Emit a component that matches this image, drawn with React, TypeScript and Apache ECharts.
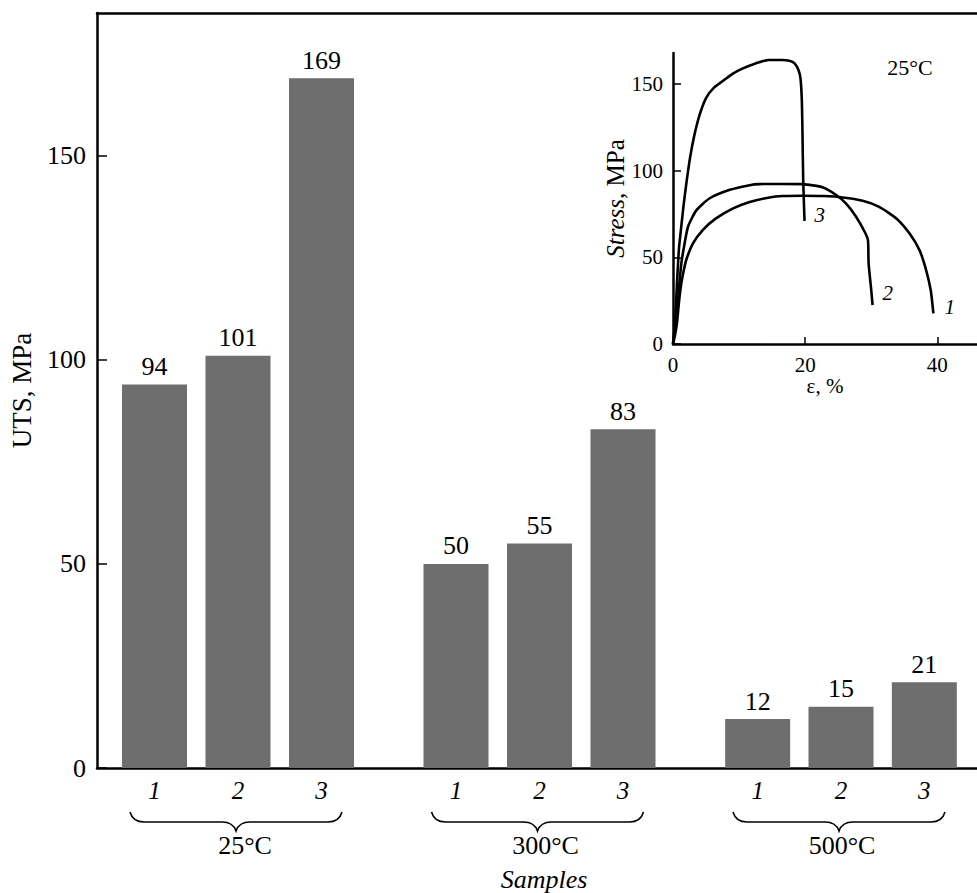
import React, { useEffect, useRef } from 'react';
import * as echarts from 'echarts';

// ---- data ----
const groups = ['25°C', '300°C', '500°C'];
const samples = ['1', '2', '3'];
const uts25 = [94, 101, 169];
const uts300 = [50, 55, 83];
const uts500 = [12, 15, 21];
const utsTicks = [0, 50, 100, 150];

// inset: stress-strain curves at 25°C  [strain %, stress MPa]
const curve1 = [
  [0, 0], [0.3, 5], [0.6, 12], [0.9, 24], [1.26, 35], [1.6, 42], [2.0, 48.5], [3.0, 58], [4.5, 65.8],
  [6.5, 72.5], [9.1, 78.3], [11.6, 82], [14.6, 84.6], [16.6, 85.4], [19.6, 85.6], [22.7, 85.4],
  [25.7, 84.6], [28.7, 82.7], [31.2, 79.2], [33.8, 72.5], [35.8, 63.8], [37.3, 54.2],
  [38.3, 42.7], [39.0, 31], [39.4, 17.7],
];
const curve2 = [
  [0, 0], [0.3, 8], [0.6, 17.7], [0.9, 32], [1.26, 46.5], [1.66, 56], [2.27, 67.7], [3.5, 77], [5.5, 84],
  [8.6, 89], [11.6, 91.7], [13.1, 92.3], [16.5, 92.4], [19.6, 92.3], [22.7, 90.4], [24.7, 86],
  [26.2, 81], [27.7, 73.5], [29.0, 64.8], [29.5, 60], [29.6, 46.5], [30.0, 31], [30.2, 22.5],
];
const curve3 = [
  [0, 0], [0.3, 12], [0.6, 35], [0.9, 55], [1.2, 66], [1.6, 80], [2.1, 95], [2.6, 108], [3.2, 120],
  [4.0, 132], [5.0, 142], [6.2, 148], [7.6, 152], [9.0, 156], [10.5, 159], [12.5, 162],
  [14.5, 164], [16.5, 164], [17.6, 163.5], [18.4, 162], [19.0, 158], [19.3, 153], [19.5, 140],
  [19.6, 120], [19.7, 95], [19.9, 71],
];
const strainTicks = [0, 20, 40];
const stressTicks = [0, 50, 100, 150];

const FONT = "'Liberation Serif', 'Times New Roman', serif";

const braceD =
  'M0,0 C2,7 6,10 14,10 L92,10 C100,10 104,13 106,19 C108,13 112,10 120,10 L198,10 C206,10 210,7 212,0';

let registered = false;

export default function App() {
  const ref = useRef<HTMLDivElement>(null);

  useEffect(() => {
    if (!ref.current) return;
    if (!registered) {
      echarts.graphic.registerShape('brace', echarts.graphic.extendPath(braceD, {}));
      registered = true;
    }
    const chart = echarts.init(ref.current, null, { renderer: 'svg' });

    const TOP = 13;
    const BOTTOM = 125; // 893 - 768
    const groupGrids = [
      { left: 112.75, width: 250.5 },
      { left: 414.25, width: 250.5 },
      { left: 716, width: 250 },
    ];
    const namePads = [[0, 0, 0, 14], [0, 0, 0, 12], [0, 0, 0, 2]];
    const values = [uts25, uts300, uts500];
    const axisLineStyle = { color: '#000', width: 2.5 };

    const grids: any[] = [
      { left: 96, right: 0, top: TOP, bottom: BOTTOM },
      ...groupGrids.map((g) => ({ left: g.left, width: g.width, top: TOP, bottom: BOTTOM })),
      { left: 673, right: 0, top: 53, bottom: 549 },
    ];

    const xAxes: any[] = [
      {
        gridIndex: 0, type: 'value', min: 0, max: 1, position: 'bottom',
        axisLine: { show: true, lineStyle: axisLineStyle }, axisTick: { show: false },
        axisLabel: { show: false }, splitLine: { show: false },
      },
      {
        gridIndex: 0, type: 'value', min: 0, max: 1, position: 'top',
        axisLine: { show: true, lineStyle: axisLineStyle }, axisTick: { show: false },
        axisLabel: { show: false }, splitLine: { show: false },
      },
      ...groups.map((g, i) => ({
        gridIndex: i + 1, type: 'category', data: samples,
        axisLine: { show: false }, axisTick: { show: false },
        axisLabel: { fontFamily: FONT, fontStyle: 'italic', fontSize: 25, color: '#000', margin: 10 },
        name: g, nameLocation: 'middle', nameGap: 64,
        nameTextStyle: { fontFamily: FONT, fontSize: 26, color: '#000', padding: namePads[i] },
      })),
      {
        gridIndex: 4, type: 'value', min: 0, max: 46,
        axisLine: { show: true, onZero: false, lineStyle: axisLineStyle },
        axisTick: { show: true, inside: true, length: 7, customValues: strainTicks, lineStyle: { color: '#000', width: 1.5 } },
        axisLabel: { customValues: strainTicks, fontFamily: FONT, fontSize: 21, color: '#000', margin: 10 },
        splitLine: { show: false },
        name: 'ε, %', nameLocation: 'middle', nameGap: 26,
        nameTextStyle: { fontFamily: FONT, fontSize: 21, color: '#000' },
      },
    ];

    const yAxes: any[] = [
      {
        gridIndex: 0, type: 'value', min: 0, max: 185,
        axisLine: { show: true, lineStyle: axisLineStyle },
        axisTick: { show: true, inside: true, length: 10, customValues: utsTicks, lineStyle: { color: '#000', width: 1.5 } },
        axisLabel: { customValues: utsTicks, fontFamily: FONT, fontSize: 26, color: '#000', margin: 11 },
        splitLine: { show: false },
        name: 'UTS, MPa', nameLocation: 'middle', nameGap: 62, nameRotate: 90,
        nameTextStyle: { fontFamily: FONT, fontSize: 27, color: '#000' },
      },
      ...groups.map((_, i) => ({ gridIndex: i + 1, type: 'value', min: 0, max: 185, show: false })),
      {
        gridIndex: 4, type: 'value', min: 0, max: 168,
        axisLine: { show: true, onZero: false, lineStyle: axisLineStyle },
        axisTick: { show: true, inside: true, length: 8, customValues: stressTicks, lineStyle: { color: '#000', width: 1.5 } },
        axisLabel: { customValues: stressTicks, fontFamily: FONT, fontSize: 21, color: '#000', margin: 10 },
        splitLine: { show: false },
        name: '{i|Stress}, MPa', nameLocation: 'middle', nameGap: 44, nameRotate: 90,
        nameTextStyle: {
          fontFamily: FONT, fontSize: 25, color: '#000',
          rich: { i: { fontFamily: FONT, fontSize: 25, fontStyle: 'italic', color: '#000' } },
        },
      },
    ];

    const barSeries = groups.map((g, i) => ({
      type: 'bar', name: g, xAxisIndex: i + 2, yAxisIndex: i + 1,
      data: values[i], barWidth: 65,
      itemStyle: { color: '#6e6e6e' },
      label: { show: true, position: 'top', distance: 5, fontFamily: FONT, fontSize: 26, color: '#000' },
    }));

    const curves = [
      { name: '1', data: curve1, offset: [3, -6] },
      { name: '2', data: curve2, offset: [2, -12] },
      { name: '3', data: curve3, offset: [2, -6] },
    ];
    const lineSeries = curves.map((c) => ({
      type: 'line', name: c.name, xAxisIndex: 5, yAxisIndex: 4,
      data: c.data, showSymbol: false, smooth: 0.2,
      lineStyle: { color: '#000', width: 2.6 },
      endLabel: {
        show: true, formatter: '{a}', offset: c.offset,
        fontFamily: FONT, fontStyle: 'italic', fontSize: 21, color: '#000',
      },
    }));

    const centers = groupGrids.map((g) => g.left + g.width / 2);

    chart.setOption({
      animation: false,
      backgroundColor: '#fff',
      textStyle: { fontFamily: FONT },
      grid: grids,
      xAxis: xAxes,
      yAxis: yAxes,
      series: [...barSeries, ...lineSeries],
      graphic: [
        ...centers.map((cx) => ({
          type: 'brace', x: cx - 108, y: 812, silent: true,
          style: { fill: 'none', stroke: '#000', lineWidth: 1.6 },
        })),
        {
          type: 'text', x: 544, y: 879, silent: true,
          style: {
            text: 'Samples', fontFamily: FONT, fontStyle: 'italic', fontSize: 26, fill: '#000',
            textAlign: 'center', textVerticalAlign: 'middle',
          },
        },
        {
          type: 'text', x: 910, y: 67, silent: true,
          style: {
            text: '25°C', fontFamily: FONT, fontSize: 22, fill: '#000',
            textAlign: 'center', textVerticalAlign: 'middle',
          },
        },
      ],
    });

    return () => chart.dispose();
  }, []);

  return (
    <div
      ref={ref}
      style={{ position: 'absolute', left: 0, top: 0, width: 977, height: 893, background: '#fff' }}
    />
  );
}
